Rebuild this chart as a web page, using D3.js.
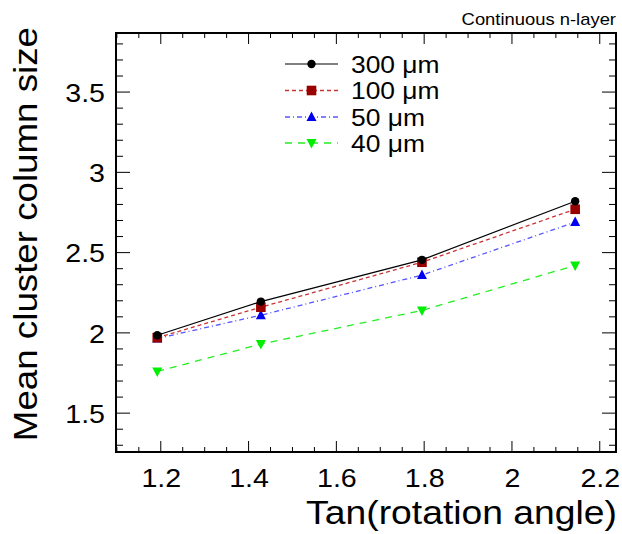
<!DOCTYPE html>
<html>
<head>
<meta charset="utf-8">
<script src="https://cdn.jsdelivr.net/npm/d3@7"></script>
<style>
body { margin: 0; background: #fff; }
svg { display: block; font-family: "Liberation Sans", Arial, sans-serif; }
</style>
</head>
<body>
<svg id="chart" width="622" height="534"></svg>
<script>
const xValues = [1.192, 1.428, 1.795, 2.144];
const series300 = [1.985, 2.195, 2.455, 2.82];
const series100 = [1.97, 2.16, 2.44, 2.77];
const series50 = [1.965, 2.11, 2.36, 2.69];
const series40 = [1.76, 1.93, 2.14, 2.42];
const seriesNames = ["300 \u03bcm", "100 \u03bcm", "50 \u03bcm", "40 \u03bcm"];
const xTicks = [1.2, 1.4, 1.6, 1.8, 2, 2.2];
const yTicks = [1.5, 2, 2.5, 3, 3.5];
const xDomain = [1.098, 2.237];
const yDomain = [1.258, 3.868];

const svg = d3.select("#chart");
const L = 116, R = 616, T = 33, B = 452;
const x = d3.scaleLinear().domain(xDomain).range([L, R]);
const y = d3.scaleLinear().domain(yDomain).range([B, T]);

const styles = [
  {color: "#000000", line: "#000000", dash: null, marker: "circle"},
  {color: "#990000", line: "#cc3333", dash: "4,3", marker: "square"},
  {color: "#0000ee", line: "#5555ff", dash: "5,3,1,3", marker: "tri-up"},
  {color: "#00ee00", line: "#22ee22", dash: "7,6", marker: "tri-down"}
];
const allSeries = [series300, series100, series50, series40];

const xMinor = d3.range(1.1, 2.2376, 0.05).filter(v => v >= xDomain[0] && v <= xDomain[1]);
const yMinor = d3.range(1.3, 3.86, 0.1).filter(v => v >= yDomain[0] && v <= yDomain[1]);

// text helper with horizontal stretch
function stretchedText(px, py, rot, anchor, size, sx, str) {
  return svg.append("text")
    .attr("transform", `translate(${px},${py}) rotate(${rot}) scale(${sx},1)`)
    .attr("text-anchor", anchor).attr("font-size", size).attr("fill", "#000").text(str);
}

const fmt = d3.format("~g");
// bottom axis labels via axis
const xAxisB = d3.axisBottom(x).tickValues(xTicks).tickSize(0).tickPadding(0).tickFormat(fmt);
g1 = svg.append("g").attr("transform", `translate(0,${B})`).call(xAxisB);
g1.select(".domain").remove();
g1.selectAll("text").attr("font-size", 26).attr("fill", "#000")
  .attr("font-family", "Liberation Sans, Arial, sans-serif")
  .attr("y", 0).attr("dy", 0).attr("transform", "translate(0,35) scale(1.1,1)");

const yAxisL = d3.axisLeft(y).tickValues(yTicks).tickSize(0).tickPadding(0).tickFormat(fmt);
g2 = svg.append("g").attr("transform", `translate(${L},0)`).call(yAxisL);
g2.select(".domain").remove();
g2.selectAll("text").attr("font-size", 26).attr("fill", "#000")
  .attr("font-family", "Liberation Sans, Arial, sans-serif")
  .attr("x", 0).attr("dy", "0.36em").attr("transform", "translate(-11,0) scale(1.1,1)");

// tick marks
const tg = svg.append("g").attr("stroke", "#000").attr("stroke-width", 1);
xTicks.forEach(v => {
  tg.append("line").attr("x1", x(v)).attr("x2", x(v)).attr("y1", B).attr("y2", B - 11);
  tg.append("line").attr("x1", x(v)).attr("x2", x(v)).attr("y1", T).attr("y2", T + 11);
});
xMinor.forEach(v => {
  if (xTicks.some(t => Math.abs(t - v) < 1e-6)) return;
  tg.append("line").attr("x1", x(v)).attr("x2", x(v)).attr("y1", B).attr("y2", B - 5);
  tg.append("line").attr("x1", x(v)).attr("x2", x(v)).attr("y1", T).attr("y2", T + 5);
});
yTicks.forEach(v => {
  tg.append("line").attr("y1", y(v)).attr("y2", y(v)).attr("x1", L).attr("x2", L + 14);
  tg.append("line").attr("y1", y(v)).attr("y2", y(v)).attr("x1", R).attr("x2", R - 14);
});
yMinor.forEach(v => {
  if (yTicks.some(t => Math.abs(t - v) < 1e-6)) return;
  tg.append("line").attr("y1", y(v)).attr("y2", y(v)).attr("x1", L).attr("x2", L + 7);
  tg.append("line").attr("y1", y(v)).attr("y2", y(v)).attr("x1", R).attr("x2", R - 7);
});

// frame
svg.append("rect").attr("x", L).attr("y", T).attr("width", R - L).attr("height", B - T)
  .attr("fill", "none").attr("stroke", "#000").attr("stroke-width", 2);

function drawMarker(sel, type, cx, cy, color) {
  if (type === "circle") {
    sel.append("circle").attr("cx", cx).attr("cy", cy).attr("r", 4.2).attr("fill", color);
  } else if (type === "square") {
    sel.append("rect").attr("x", cx - 4.8).attr("y", cy - 4.8).attr("width", 9.6).attr("height", 9.6).attr("fill", color);
  } else if (type === "tri-up") {
    sel.append("path").attr("d", `M${cx},${cy - 5.5}L${cx + 5},${cy + 4}L${cx - 5},${cy + 4}Z`).attr("fill", color);
  } else {
    sel.append("path").attr("d", `M${cx},${cy + 5.5}L${cx + 5},${cy - 4}L${cx - 5},${cy - 4}Z`).attr("fill", color);
  }
}

const lineGen = d3.line().x(d => x(d[0])).y(d => y(d[1]));
for (let i = allSeries.length - 1; i >= 0; i--) {
  const st = styles[i];
  const pts = xValues.map((xv, j) => [xv, allSeries[i][j]]);
  svg.append("path").datum(pts).attr("d", lineGen).attr("fill", "none")
    .attr("stroke", st.line).attr("stroke-width", i === 0 ? 1.2 : 1.3)
    .attr("stroke-dasharray", st.dash);
  const mg = svg.append("g");
  pts.forEach(p => drawMarker(mg, st.marker, x(p[0]), y(p[1]), st.color));
}

// legend
const lg = svg.append("g");
const legY = [64, 90.5, 117, 143];
seriesNames.forEach((name, i) => {
  const st = styles[i];
  lg.append("line").attr("x1", 285).attr("x2", 338).attr("y1", legY[i]).attr("y2", legY[i])
    .attr("stroke", st.line).attr("stroke-width", i === 0 ? 1.2 : 1.3).attr("stroke-dasharray", st.dash);
  drawMarker(lg, st.marker, 311.5, legY[i], st.color);
  lg.append("text").attr("transform", `translate(351,${legY[i] + 8.6}) scale(1.1,1)`)
    .attr("font-size", 24).attr("fill", "#000").text(name);
});

// titles
stretchedText(616, 25, 0, "end", 16, 1.15, "Continuous n-layer");
stretchedText(617, 524, 0, "end", 33, 1.13, "Tan(rotation angle)");
stretchedText(37, 27, -90, "end", 34, 1.08, "Mean cluster column size");
</script>
</body>
</html>
